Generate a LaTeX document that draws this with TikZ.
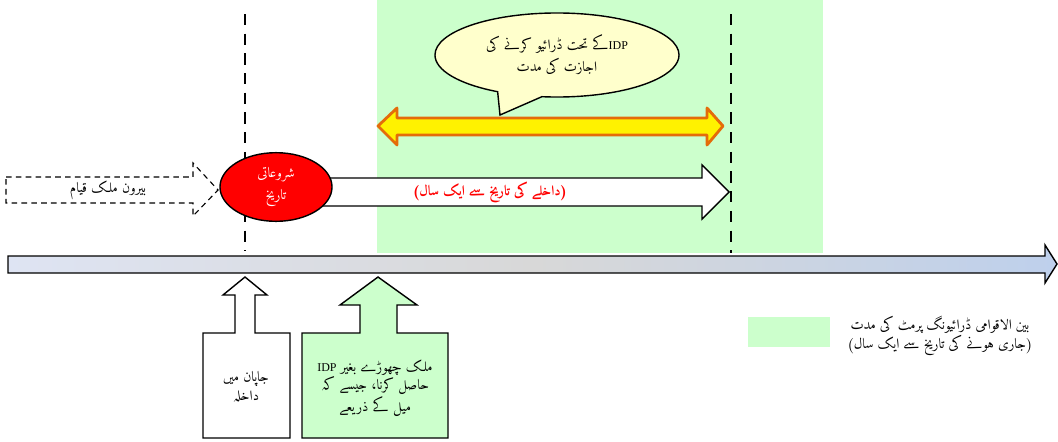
\documentclass[tikz,border=0pt]{standalone}
\usepackage{fontspec}
\usetikzlibrary{shapes.geometric,shapes.callouts}
\newfontfamily\urdu[Script=Arabic, Extension=.ttf, UprightFont=*-Regular, BoldFont=*-Bold]{Amiri}
\newfontfamily\latin{Liberation Serif}
\TeXXeTstate=1
\newcommand{\ur}[1]{\beginR #1\endR}
\newcommand{\idp}{\beginL{\latin\fontsize{8.5}{13}\selectfont IDP}\endL}
\definecolor{bandgreen}{RGB}{204,255,204}
\definecolor{noteyellow}{RGB}{255,255,204}
\definecolor{barorange}{RGB}{228,108,10}
\definecolor{lineleft}{RGB}{222,228,243}
\definecolor{linemid}{RGB}{216,216,216}
\definecolor{lineright}{RGB}{190,208,236}

\begin{document}
\begin{tikzpicture}[x=0.025cm, y=-0.025cm,
    every node/.style={font=\urdu\fontsize{10}{13}\selectfont, align=center},
    wide/.style={font=\urdu\fontsize{10}{15.5}\selectfont},
    marker/.style={line width=2pt, dash pattern=on 8pt off 6pt},
    outline/.style={draw, line width=1pt, line join=miter}]
  \useasboundingbox (0,0) rectangle (1058,441);

  % Permit band & date markers
  \fill[bandgreen] (377,0) rectangle (823,253);
  \draw[marker] (245,14) -- (245,251);
  \draw[marker] (731,14) -- (731,253);

  % Timeline
  \draw[outline, left color=lineleft, right color=lineright, middle color=linemid]
    (8,256) -- (1045,256) -- (1045,245) -- (1057,264) -- (1045,283)
    -- (1045,273) -- (8,273) -- cycle;

  % Stay abroad
  \draw[line width=0.8pt, dash pattern=on 4pt off 3pt]
    (6,177) -- (193,177) -- (193,163) -- (218,190) -- (193,216) -- (193,203) -- (6,203) -- cycle;
  \node (abroad) at (108,190) {\ur{بیرون ملک قیام}};

  % One year from entry
  \draw[outline, fill=white]
    (300,178) -- (702,178) -- (702,165) -- (729,192) -- (702,219) -- (702,206) -- (300,206) -- cycle;
  \node[text=red, font=\urdu\bfseries\fontsize{10}{13}\selectfont] (year) at (490,192)
    {\ur{(داخلے کی تاریخ سے ایک سال)}};

  % Driving period
  \draw[line width=2pt, draw=barorange, fill=yellow, line join=round]
    (378,126) -- (397,108) -- (397,118) -- (707,118) -- (707,108) -- (723,126)
    -- (707,145) -- (707,135) -- (397,135) -- (397,145) -- cycle;
  \node[ellipse callout, outline, wide, fill=noteyellow, minimum width=6.1cm, minimum height=2.1cm,
    callout absolute pointer={(500,115)}, callout pointer arc=22] (period) at (557,55)
    {\ur{\idp{}کے تحت ڈرائیو کرنے کی}\\\ur{اجازت کی مدت}};

  % Start date
  \node[ellipse, outline, wide, fill=red, text=white, minimum width=2.8cm, minimum height=1.7cm]
    (start) at (276,187) {\ur{شروعاتی}\\\ur{تاریخ}};

  % Entry & mail boxes
  \draw[outline, fill=white]
    (203,333) -- (235,333) -- (235,295) -- (223,295) -- (245,277) -- (267,295)
    -- (255,295) -- (255,333) -- (290,333) -- (290,438) -- (203,438) -- cycle;
  \node (entry) at (246,387) {\ur{جاپان میں}\\\ur{داخلہ}};
  \draw[outline, fill=bandgreen]
    (302,333) -- (360,333) -- (360,305) -- (340,305) -- (378,277) -- (417,305)
    -- (397,305) -- (397,333) -- (448,333) -- (448,438) -- (302,438) -- cycle;
  \node (mail) at (375,388)
    {\ur{ملک چھوڑے بغیر \idp}\\\ur{حاصل کرنا، جیسے کہ}\\\ur{میل کے ذریعے}};

  % Legend
  \fill[bandgreen] (748,317) rectangle (830,347);
  \node (legend) at (940,336)
    {\ur{بین الاقوامی ڈرائیونگ پرمٹ کی مدت}\\\ur{(جاری ہونے کی تاریخ سے ایک سال)}};
\end{tikzpicture}
\end{document}
